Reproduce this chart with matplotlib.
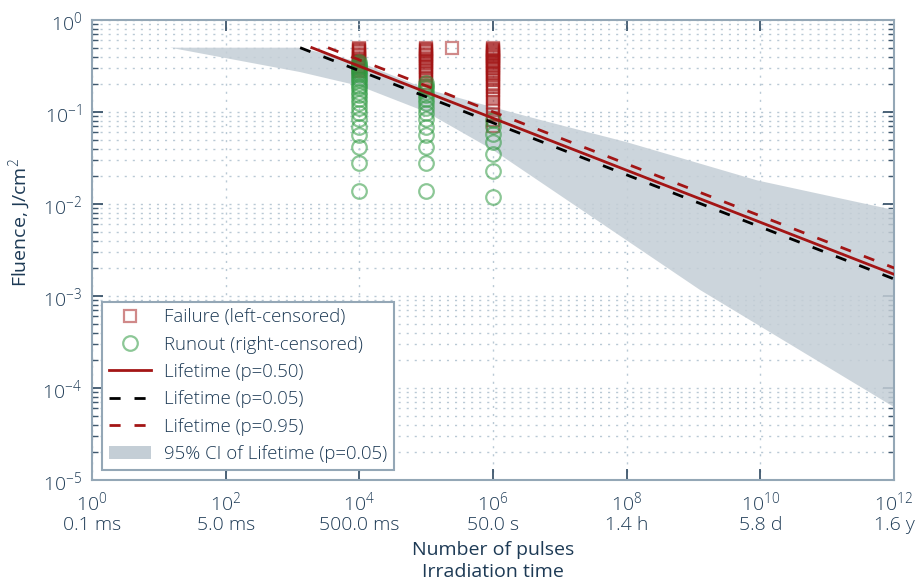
import numpy as np
import matplotlib
matplotlib.use("Agg")
import matplotlib.pyplot as plt
from matplotlib.lines import Line2D
from matplotlib.patches import Patch
from matplotlib.ticker import LogLocator, NullLocator, FixedLocator, FixedFormatter

plt.rcParams['font.family'] = ['Open Sans', 'DejaVu Sans']
plt.rcParams['font.weight'] = 'light'
plt.rcParams['mathtext.fontset'] = 'custom'
plt.rcParams['mathtext.rm'] = 'Open Sans:light'
plt.rcParams['mathtext.it'] = 'Open Sans:italic'
plt.rcParams['mathtext.bf'] = 'Open Sans:bold'

TEXT = '#1d3a55'
SPINE = '#94a7b6'
GRID = '#b9c9d5'
RED = '#a31515'
GREEN = '#2e9a40'
BAND = '#c4ced6'

# --- test results: (pulses, fluence J/cm^2) ---
fail_n1 = 1e4
fail_f1 = [0.278, 0.292, 0.306, 0.319, 0.333, 0.347, 0.361, 0.375, 0.389, 0.403,
           0.417, 0.431, 0.444, 0.458, 0.472, 0.486, 0.500]
fail_n2 = 1e5
fail_f2 = [0.181, 0.194, 0.208, 0.222, 0.236, 0.250, 0.264, 0.278, 0.292, 0.306,
           0.319, 0.333, 0.347, 0.361, 0.375, 0.389, 0.403, 0.417, 0.431, 0.444,
           0.458, 0.472, 0.486, 0.500]
fail_n3 = 1e6
fail_f3 = [0.070, 0.081, 0.093, 0.105, 0.116, 0.128, 0.140, 0.151, 0.163, 0.174,
           0.186, 0.198, 0.209, 0.221, 0.233, 0.244, 0.256, 0.267, 0.279, 0.291,
           0.302, 0.314, 0.326, 0.337, 0.349, 0.360, 0.372, 0.384, 0.395, 0.407,
           0.419, 0.430, 0.442, 0.453, 0.465, 0.477, 0.488, 0.500]
fail_extra_n = [2.45e5]
fail_extra_f = [0.5]

run_n1 = 1e4
run_f1 = [0.014, 0.028, 0.042, 0.056, 0.069, 0.083, 0.097, 0.111, 0.125, 0.139,
          0.153, 0.167, 0.181, 0.194, 0.208, 0.222, 0.236, 0.250, 0.264, 0.278,
          0.292, 0.306, 0.319, 0.333, 0.347]
run_n2 = 1e5
run_f2 = [0.014, 0.028, 0.042, 0.056, 0.069, 0.083, 0.097, 0.111, 0.125, 0.139,
          0.153, 0.167, 0.181, 0.194, 0.208]
run_n3 = 1e6
run_f3 = [0.012, 0.023, 0.035, 0.047, 0.058, 0.070, 0.081]

# --- fitted lifetime lines (pulses at F=0.5 and F=0.001) ---
fit_f = [0.5, 0.001]
fit_n_p50 = [1.95e3, 6.8e12]
fit_n_p05 = [1.30e3, 4.5e12]
fit_n_p95 = [3.40e3, 1.2e13]

# --- 95% CI band of the p=0.05 line ---
ci_upper_n = [1.29e3, 1e4, 1e5, 9.8e5, 5.1e6, 1e8, 9.1e9, 1e12]
ci_upper_f = [0.5, 0.349, 0.178, 0.113, 0.082, 0.047, 0.018, 0.0086]
ci_lower_n = [14.8, 1.29e3, 1e4, 1e5, 1e6, 1.26e9, 1e12]
ci_lower_f = [0.5, 0.272, 0.192, 0.100, 0.0386, 0.00116, 6.2e-5]

# --- x ticks: pulse count and matching irradiation time ---
xtick_exp = [0, 2, 4, 6, 8, 10, 12]
xtick_time = ['0.1 ms', '5.0 ms', '500.0 ms', '50.0 s', '1.4 h', '5.8 d', '1.6 y']

fig = plt.figure(figsize=(9.19, 5.88), dpi=100)
ax = fig.add_axes([0.1001, 0.1837, 0.8727, 0.7823])
ax.set_xscale('log')
ax.set_yscale('log')
ax.set_xlim(1, 1e12)
ax.set_ylim(1e-5, 1)

band_n = np.concatenate([ci_upper_n, ci_lower_n[::-1]])
band_f = np.concatenate([ci_upper_f, ci_lower_f[::-1]])
ax.fill(band_n, band_f, color=BAND, alpha=0.85, lw=0, zorder=1)

sq = dict(ls='none', marker='s', ms=9, mfc='none', mec=RED, mew=1.6, alpha=0.5, zorder=2)
ci = dict(ls='none', marker='o', ms=10.5, mfc='none', mec=GREEN, mew=1.6, alpha=0.55, zorder=3)
ax.plot([fail_n1] * len(fail_f1), fail_f1, **sq)
ax.plot([fail_n2] * len(fail_f2), fail_f2, **sq)
ax.plot([fail_n3] * len(fail_f3), fail_f3, **sq)
ax.plot(fail_extra_n, fail_extra_f, **sq)
ax.plot([run_n1] * len(run_f1), run_f1, **ci)
ax.plot([run_n2] * len(run_f2), run_f2, **ci)
ax.plot([run_n3] * len(run_f3), run_f3, **ci)

ax.plot(fit_n_p50, fit_f, color=RED, lw=2.0, zorder=5)
ax.plot(fit_n_p05, fit_f, color='black', lw=2.0, ls=(0, (4, 5)), zorder=5)
ax.plot(fit_n_p95, fit_f, color=RED, lw=2.0, ls=(0, (4, 5)), zorder=5)

# axes styling
for s in ax.spines.values():
    s.set_color(SPINE)
    s.set_linewidth(1.5)
ax.xaxis.set_major_locator(FixedLocator([10.0 ** e for e in xtick_exp]))
ax.xaxis.set_major_formatter(FixedFormatter(
    [f'$10^{{{e}}}$\n{t}' for e, t in zip(xtick_exp, xtick_time)]))
ax.xaxis.set_minor_locator(NullLocator())
ax.yaxis.set_major_locator(LogLocator(base=10, numticks=10))
ax.yaxis.set_minor_locator(LogLocator(base=10, subs=np.arange(2, 10), numticks=10))
ax.tick_params(which='both', direction='in', top=True, right=True,
               labelsize=14, labelcolor=TEXT)
ax.tick_params(which='major', length=8, width=1.2, color='#2d4860', pad=7)
ax.tick_params(which='minor', length=4, width=1.0, color='#3f586e')

ax.set_axisbelow(True)
ax.grid(which='major', axis='x', color=GRID, lw=1.0, ls=(0, (1.5, 4.3)))
ax.grid(which='both', axis='y', color=GRID, lw=1.0, ls=(0, (1.5, 4.3)))

ax.set_ylabel('Fluence, J/cm$^2$', fontsize=14, color=TEXT)
ax.yaxis.set_label_coords(-0.074, 0.56)
ax.set_xlabel('Number of pulses\nIrradiation time', fontsize=14, color=TEXT,
              linespacing=1.3)
ax.xaxis.set_label_coords(0.5, -0.133)

handles = [
    Line2D([], [], ls='none', marker='s', ms=9, mfc='none', mec=RED, mew=1.6, alpha=0.5),
    Line2D([], [], ls='none', marker='o', ms=10.5, mfc='none', mec=GREEN, mew=1.6, alpha=0.55),
    Line2D([], [], color=RED, lw=2.0),
    Line2D([], [], color='black', lw=2.0, ls=(0, (4, 5))),
    Line2D([], [], color=RED, lw=2.0, ls=(0, (4, 5))),
    Patch(facecolor=BAND, edgecolor='none'),
]
labels = ['Failure (left-censored)', 'Runout (right-censored)', 'Lifetime (p=0.50)',
          'Lifetime (p=0.05)', 'Lifetime (p=0.95)', '95% CI of Lifetime (p=0.05)']
leg = ax.legend(handles, labels, loc='lower left', fontsize=13.4, frameon=True,
                fancybox=False, framealpha=1, edgecolor=SPINE, borderaxespad=0.56,
                handlelength=2.25, handletextpad=0.68, labelspacing=0.5, borderpad=0.36)
leg.get_frame().set_linewidth(1.5)
for t in leg.get_texts():
    t.set_color(TEXT)

fig.savefig('out.png', dpi=100)
